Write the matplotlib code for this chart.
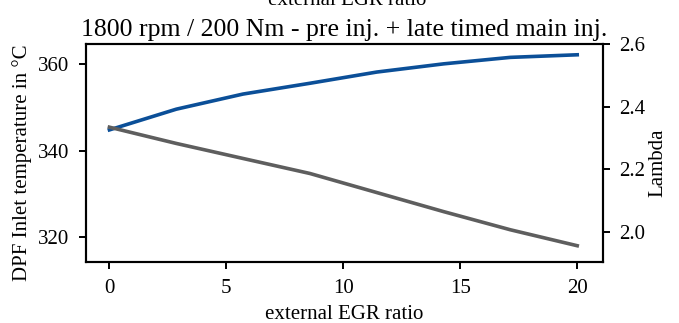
import matplotlib.pyplot as plt

plt.rcParams['font.family'] = ['Liberation Serif', 'DejaVu Serif']
plt.rcParams['mathtext.fontset'] = 'stix'

# data
egr = [0, 2.86, 5.71, 8.57, 11.43, 14.29, 17.14, 20]
t_dpf = [344.8, 349.6, 353.1, 355.6, 358.2, 360.1, 361.6, 362.2]
lam = [2.334, 2.282, 2.234, 2.186, 2.125, 2.064, 2.006, 1.955]

title = '1800 rpm / 200 Nm - pre inj. + late timed main inj.'
xlabel = 'external EGR ratio'
ylabel_l = 'DPF Inlet temperature in °C'
ylabel_r = 'Lambda'

fig = plt.figure(figsize=(6.79, 3.23), dpi=100)
ax = fig.add_axes([0.1267, 0.1889, 0.7613, 0.6749])
ax2 = ax.twinx()

ax.plot(egr, t_dpf, color='#0b4f98', lw=2.6, zorder=3)
ax2.plot(egr, lam, color='#5e5e5e', lw=2.6)

ax.set_xlim(-1, 21.1)
ax.set_ylim(314.2, 364.7)
ax2.set_ylim(1.903, 2.6)
ax.set_xticks([0, 5, 10, 15, 20])
ax.set_yticks([320, 340, 360])
ax2.set_yticks([2.0, 2.2, 2.4, 2.6])

ax.set_xlabel(xlabel, fontsize=15, labelpad=5)
ax.set_ylabel(ylabel_l, fontsize=15)
ax2.set_ylabel(ylabel_r, fontsize=15)
ax.yaxis.set_label_coords(-0.105, 0.456)
ax2.yaxis.set_label_coords(1.087, 0.456)
ax.set_title(title, fontsize=18.5, pad=6)

for a in (ax, ax2):
    a.tick_params(labelsize=15, width=1.4, length=5, pad=7)
    for s in a.spines.values():
        s.set_linewidth(1.5)

# clipped label of the panel above
fig.text(0.511, 0.984, xlabel, fontsize=15, ha='center', va='baseline')

fig.savefig('out.png', dpi=100)
